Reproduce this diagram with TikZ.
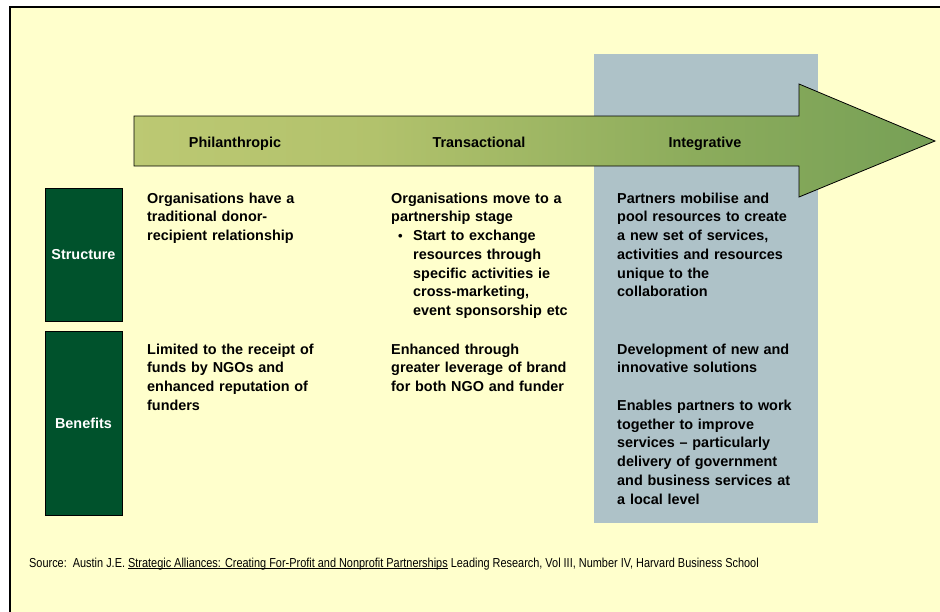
\documentclass[tikz,border=0pt]{standalone}
\usepackage{fontspec}
\setmainfont{Liberation Sans}
\newfontfamily\srcfont[FakeStretch=0.84]{Liberation Sans}

\definecolor{cream}{HTML}{FFFFCC}
\definecolor{panelblue}{HTML}{AEC2C8}
\definecolor{darkgreen}{HTML}{00522C}
\definecolor{arrA}{RGB}{205,212,126}
\definecolor{arrB}{RGB}{178,194,108}
\definecolor{arrC}{RGB}{140,172,92}
\definecolor{arrD}{RGB}{104,152,82}
\definecolor{arrE}{RGB}{95,147,79}

\pgfdeclarehorizontalshading{arrowfill}{100bp}{%
  color(0bp)=(arrA); color(40bp)=(arrB); color(60bp)=(arrC);
  color(85bp)=(arrD); color(100bp)=(arrE)}

\tikzset{
  coltext/.style={anchor=base west, inner sep=0pt, text width=230pt,
    align=left, font=\bfseries\fontsize{14.4}{18.75}\selectfont},
  header/.style={anchor=base, inner sep=0pt,
    font=\bfseries\fontsize{14.4}{18}\selectfont},
  sidebox/.style={draw=black, line width=0.8pt, fill=darkgreen,
    text=white, minimum width=77pt, minimum height=#1, inner sep=0pt,
    font=\bfseries\fontsize{14.4}{18}\selectfont},
}

% bulleted first line and the indent of its continuation lines
\newcommand{\bul}{\hspace*{7pt}\makebox[15pt][l]{\raisebox{0.5pt}{\fontsize{13}{13}\selectfont\textbullet}}}
\newcommand{\ind}{\hspace*{22pt}}

% underline set close to the baseline, independent of descenders
\newsavebox\ulbox
\newcommand{\srcul}[1]{\sbox\ulbox{#1}\rlap{\rule[-1.6pt]{\wd\ulbox}{0.7pt}}\usebox\ulbox}

\begin{document}
\begin{tikzpicture}[x=1pt, y=-1pt]
  \useasboundingbox (0,0) rectangle (940,611);

  % page background and frame
  \fill[white] (0,0) rectangle (940,611);
  \fill[cream] (10,7) rectangle (960,630);
  \draw[line width=1.2pt] (10,630) -- (10,7) -- (960,7);

  % highlighted integrative column
  \fill[panelblue] (594,54) rectangle (818,523);

  % progression arrow
  \shade[shading=arrowfill, draw=black, line width=0.8pt]
    (134,116) -- (799,116) -- (799,84) -- (935,141) -- (799,197)
    -- (799,166) -- (134,166) -- cycle;

  \node[header] (phil)  at (235,147) {Philanthropic};
  \node[header] (trans) at (479,147) {Transactional};
  \node[header] (integ) at (705,147) {Integrative};

  % row labels
  \node[sidebox=133pt] (structure) at (83.5,254.5) {Structure};
  \node[sidebox=184pt] (benefits)  at (83.5,423)   {Benefits};

  % structure row
  \node[coltext] (s1) at (147,203) {Organisations have a\\
    traditional donor-\\ recipient relationship};
  \node[coltext] (s2) at (391,203) {Organisations move to a\\
    partnership stage\\
    \bul Start to exchange\\
    \ind resources through\\
    \ind specific activities ie\\
    \ind cross-marketing,\\
    \ind event sponsorship etc};
  \node[coltext] (s3) at (617,203) {Partners mobilise and\\
    pool resources to create\\ a new set of services,\\
    activities and resources\\ unique to the\\ collaboration};

  % benefits row
  \node[coltext] (b1) at (147,354) {Limited to the receipt of\\
    funds by NGOs and\\ enhanced reputation of\\ funders};
  \node[coltext] (b2) at (391,354) {Enhanced through\\
    greater leverage of brand\\ for both NGO and funder};
  \node[coltext] (b3) at (617,354) {Development of new and\\
    innovative solutions\\[18.75pt]
    Enables partners to work\\ together to improve\\
    services -- particularly\\ delivery of government\\
    and business services at\\ a local level};

  % source line
  \node[anchor=base west, inner sep=0pt, font=\srcfont\fontsize{13}{15}\selectfont]
    (source) at (29,567) {Source:\ \ Austin J.E. \srcul{Strategic Alliances: Creating For-Profit and Nonprofit Partnerships} Leading Research, Vol III, Number IV, Harvard Business School};
\end{tikzpicture}
\end{document}
